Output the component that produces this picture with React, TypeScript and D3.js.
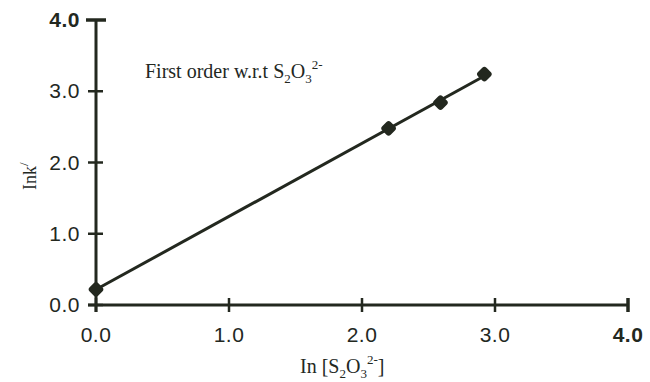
import React from 'react';
import * as d3 from 'd3';

// readings from the plot
const lnConc = [0.0, 2.2, 2.59, 2.92];
const lnK = [0.22, 2.48, 2.84, 3.24];
const xTicks = [0, 1, 2, 3, 4];
const yTicks = [0, 1, 2, 3, 4];

const W = 650;
const H = 382;
const ink = '#23281f';

const App = () => {
  const x = d3.scaleLinear().domain([0, 4]).range([96, 628]);
  const y = d3.scaleLinear().domain([0, 4]).range([305, 20]);

  // least squares line through the points
  const n = lnConc.length;
  const mx = d3.mean(lnConc) as number;
  const my = d3.mean(lnK) as number;
  let sxy = 0;
  let sxx = 0;
  lnConc.forEach((v, i) => {
    sxy += (v - mx) * (lnK[i] - my);
    sxx += (v - mx) * (v - mx);
  });
  const slope = sxy / sxx;
  const icpt = my - slope * mx;
  const fit = d3.line<number>()
    .x(d => x(d))
    .y(d => y(icpt + slope * d))([lnConc[0], lnConc[n - 1]]);

  const sans = '"Liberation Sans", Arial, sans-serif';
  const serif = '"Liberation Serif", "Times New Roman", serif';

  return (
    <svg width={W} height={H} style={{ position: 'absolute', left: 0, top: 0, background: '#fff' }}>
      {/* axes */}
      <line x1={x(0)} x2={x(0)} y1={y(4)} y2={y(0) + 7} stroke={ink} strokeWidth={3} />
      <line x1={x(0) - 8} x2={x(4)} y1={y(0)} y2={y(0)} stroke={ink} strokeWidth={3} />

      {yTicks.map(t => (
        <g key={'y' + t}>
          <line
            x1={x(0) - (t === 4 ? 10 : 8)}
            x2={x(0) + (t === 4 ? 10 : 7)}
            y1={y(t)}
            y2={y(t)}
            stroke={ink}
            strokeWidth={t === 4 ? 3.5 : 2.5}
          />
          <text
            x={80}
            y={y(t) + 7}
            textAnchor="end"
            fontFamily={sans}
            fontSize={21}
            letterSpacing={0.5}
            fontWeight={t === 4 ? 'bold' : 'normal'}
            fill={ink}
          >
            {t.toFixed(1)}
          </text>
        </g>
      ))}

      {xTicks.map(t => (
        <g key={'x' + t}>
          <line x1={x(t)} x2={x(t)} y1={y(0) - 7} y2={y(0) + 7} stroke={ink} strokeWidth={t === 4 ? 3.5 : 2.5} />
          <text
            x={x(t)}
            y={342}
            textAnchor="middle"
            fontFamily={sans}
            fontSize={21}
            letterSpacing={0.5}
            fontWeight={t === 4 ? 'bold' : 'normal'}
            fill={ink}
          >
            {t.toFixed(1)}
          </text>
        </g>
      ))}

      {/* fitted line */}
      <path d={fit || ''} fill="none" stroke={ink} strokeWidth={3} />

      {/* points */}
      {lnConc.map((v, i) => (
        <rect
          key={'p' + i}
          x={x(v) - 6}
          y={y(lnK[i]) - 6}
          width={12}
          height={12}
          rx={3}
          fill={ink}
          transform={`rotate(45 ${x(v)} ${y(lnK[i])})`}
        />
      ))}

      {/* annotation */}
      <text x={145} y={78} fontFamily={serif} fontSize={20} fill={ink}>
        First order w.r.t S
        <tspan fontSize={13} dy={5}>2</tspan>
        <tspan dy={-5}>O</tspan>
        <tspan fontSize={13} dy={5}>3</tspan>
        <tspan fontSize={13} dy={-14}>2-</tspan>
      </text>

      {/* axis titles */}
      <text x={300} y={373} fontFamily={serif} fontSize={20} fill={ink}>
        In [S
        <tspan fontSize={13} dy={5}>2</tspan>
        <tspan dy={-5}>O</tspan>
        <tspan fontSize={13} dy={5}>3</tspan>
        <tspan fontSize={13} dy={-14}>2-</tspan>
        <tspan dy={9}>]</tspan>
      </text>

      <text transform="translate(36,190) rotate(-90)" fontFamily={serif} fontSize={18} fill={ink}>
        Ink
        <tspan fontSize={13} dy={-8}>/</tspan>
      </text>
    </svg>
  );
};

export default App;
